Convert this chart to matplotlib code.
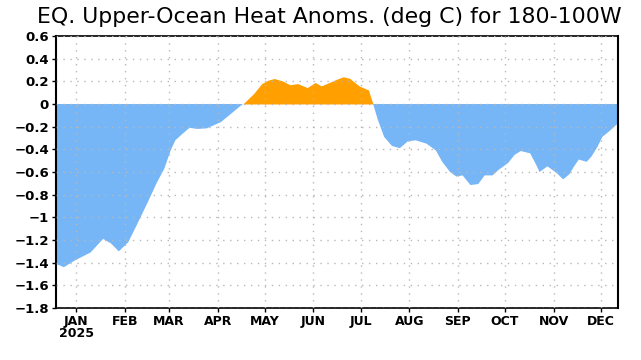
import matplotlib.pyplot as plt
import numpy as np

# day of year (2025) and heat content anomaly (deg C)
days = [2, 7, 14, 24, 32, 37, 42, 48, 53, 61, 66, 71, 75, 78, 82, 87, 92, 98,
        107, 114, 121, 128, 133, 137, 141, 146, 151, 156, 162, 167, 171, 176,
        181, 185, 189, 195, 201, 203, 204, 207, 211, 216, 221, 226, 231, 238,
        244, 248, 253, 257, 261, 266, 271, 275, 280, 284, 290, 294, 298, 304,
        308, 310, 315, 321, 325, 329, 332, 335, 340, 343, 347, 350, 354, 360]
anom = [-1.41, -1.44, -1.38, -1.31, -1.19, -1.23, -1.30, -1.22, -1.08, -0.85,
        -0.70, -0.57, -0.41, -0.32, -0.27, -0.21, -0.22, -0.215, -0.16, -0.08,
        0.0, 0.094, 0.18, 0.21, 0.225, 0.205, 0.17, 0.18, 0.145, 0.19, 0.16,
        0.19, 0.22, 0.24, 0.227, 0.16, 0.124, 0.035, 0.0, -0.14, -0.29, -0.37,
        -0.39, -0.33, -0.32, -0.35, -0.41, -0.51, -0.60, -0.64, -0.63, -0.715,
        -0.706, -0.63, -0.63, -0.58, -0.52, -0.45, -0.415, -0.435, -0.54,
        -0.60, -0.55, -0.61, -0.665, -0.62, -0.55, -0.49, -0.51, -0.465,
        -0.375, -0.29, -0.245, -0.17]

month_days = [15, 46, 74, 105, 135, 166, 196, 227, 258, 288, 319, 349]
month_labels = ["JAN\n2025", "FEB", "MAR", "APR", "MAY", "JUN", "JUL", "AUG",
                "SEP", "OCT", "NOV", "DEC"]
y_ticks = [0.6, 0.4, 0.2, 0, -0.2, -0.4, -0.6, -0.8, -1, -1.2, -1.4, -1.6, -1.8]

x = np.array(days, dtype=float)
y = np.array(anom)

fig = plt.figure(figsize=(6.41, 3.6), dpi=100)
ax = fig.add_axes([0.0874, 0.1444, 0.8768, 0.7556])

ax.fill_between(x, 0, y, where=y >= 0, interpolate=True, color="#ffa000", lw=0)
ax.fill_between(x, 0, y, where=y <= 0, interpolate=True, color="#76b6f6", lw=0)

ax.set_xlim(2, 360)
ax.set_ylim(-1.8, 0.6)
ax.set_xticks(month_days)
ax.set_xticklabels(month_labels, fontsize=9, fontweight="bold",
                   linespacing=0.95)
ax.set_yticks(y_ticks)
ax.set_yticklabels([f"{v:g}".replace("-", "\u2212") for v in y_ticks],
                   fontsize=9.5, fontweight="bold")
ax.tick_params(direction="out", length=3, width=1, pad=2)

ax.grid(True, color="#b8b8b8", linestyle=(0, (1, 4)), linewidth=1)
ax.set_axisbelow(False)

for side in ["left", "right"]:
    ax.spines[side].set_linewidth(1.5)
for side in ["top", "bottom"]:
    ax.spines[side].set_linewidth(1.2)
    ax.spines[side].set_linestyle((0, (3, 1)))

fig.text(0.514, 0.952, "EQ. Upper-Ocean Heat Anoms. (deg C) for 180-100W",
         ha="center", va="center", fontsize=15.8)

fig.savefig("out.png", dpi=100)
